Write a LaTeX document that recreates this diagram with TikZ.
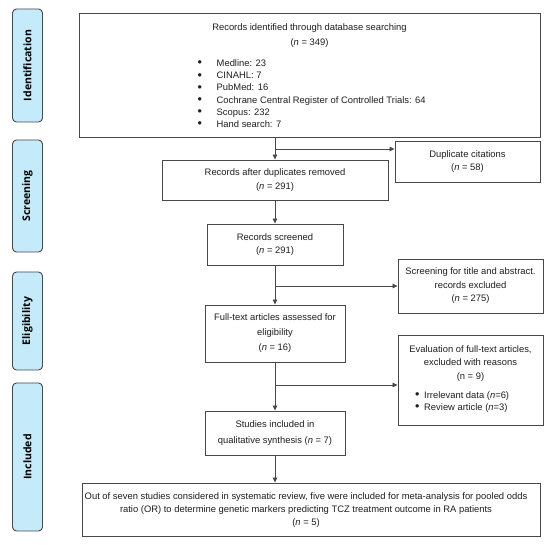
\documentclass[tikz,border=0pt]{standalone}
\usepackage{fontspec}
\setmainfont{Liberation Sans}
\newfontfamily\labfont{Open Sans}
\usetikzlibrary{arrows.meta}
\definecolor{lblue}{RGB}{197,234,250}
\definecolor{edge}{RGB}{72,72,72}
\definecolor{txt}{RGB}{30,30,30}
\newcommand{\bul}{\raisebox{-0.3pt}{\fontsize{12.5}{12}\selectfont\textbullet}}
\begin{document}
\begin{tikzpicture}[x=1pt,y=-1pt,
 box/.style={draw=edge,line width=0.9pt,rectangle,inner sep=0pt},
 btxt/.style={inner sep=0pt,align=center,text=txt,font=\fontsize{9.4}{13.5}\selectfont},
 ltxt/.style={inner sep=0pt,align=left,text=txt,font=\fontsize{9.4}{12.2}\selectfont},
 side/.style={draw=edge,fill=lblue,rounded corners=4pt,line width=0.9pt,minimum width=30pt,inner sep=0pt},
 sidetxt/.style={rotate=90,inner sep=0pt,text=black,font=\labfont\bfseries\fontsize{10.5}{12}\selectfont},
 arr/.style={draw=edge,line width=0.8pt,-{Triangle[length=5pt,width=4.5pt]}},
 ln/.style={draw=edge,line width=0.8pt}
]
\useasboundingbox (0,0) rectangle (550,545);
% side labels
\node[side,minimum height=113pt] (s1) at (27.5,65.5) {};
\node[sidetxt] (s1t) at (s1.center) {Identification};
\node[side,minimum height=112pt] (s2) at (27.5,196) {};
\node[sidetxt] (s2t) at (s2.center) {Screening};
\node[side,minimum height=98pt] (s3) at (27.5,321) {};
\node[sidetxt] (s3t) at (s3.center) {Eligibility};
\node[side,minimum height=148pt] (s4) at (27.5,457) {};
\node[sidetxt] (s4t) at (s4.center) {Included};
% boxes
\node[box,minimum width=461pt,minimum height=124pt] (b1) at (309.5,75) {};
\node[btxt,font=\fontsize{9.4}{15}\selectfont] (b1t) at (309.5,35.5) {Records identified through database searching\\(\textit{n} = 349)};
\node[ltxt,anchor=north west] (b1l) at (197.5,59.5) {%
\makebox[19pt][l]{\bul}Medline: 23\\
\makebox[19pt][l]{\bul}CINAHL: 7\\
\makebox[19pt][l]{\bul}PubMed: 16\\
\makebox[19pt][l]{\bul}Cochrane Central Register of Controlled Trials: 64\\
\makebox[19pt][l]{\bul}Scopus: 232\\
\makebox[19pt][l]{\bul}Hand search: 7};
\node[box,minimum width=226pt,minimum height=40pt] (b2) at (275,180) {};
\node[btxt] (b2t) at (b2.center) {Records after duplicates removed\\(\textit{n} = 291)};
\node[box,minimum width=145pt,minimum height=41pt] (d) at (467.5,161.5) {};
\node[btxt] (dt) at (d.center) {Duplicate citations\\(\textit{n} = 58)};
\node[box,minimum width=136pt,minimum height=41pt] (b3) at (275,244.5) {};
\node[btxt] (b3t) at (b3.center) {Records screened\\(\textit{n} = 291)};
\node[box,minimum width=145pt,minimum height=54pt] (sc) at (470.5,286) {};
\node[btxt] (sct) at (sc.center) {Screening for title and abstract.\\records excluded\\(\textit{n} = 275)};
\node[box,minimum width=140pt,minimum height=57pt] (b4) at (275,333.5) {};
\node[btxt,font=\fontsize{9.4}{15}\selectfont] (b4t) at (b4.center) {Full-text articles assessed for\\eligibility\\(\textit{n} = 16)};
\node[box,minimum width=145pt,minimum height=90pt] (ev) at (470.5,380) {};
\node[btxt] (evt) at (470.5,363.5) {Evaluation of full-text articles,\\excluded with reasons\\(n = 9)};
\node[ltxt,font=\fontsize{9.4}{11.5}\selectfont,anchor=north west] (evl) at (415,391.5) {%
\makebox[9pt][l]{\bul}Irrelevant data (\textit{n}=6)\\
\makebox[9pt][l]{\bul}Review article (\textit{n}=3)};
\node[box,minimum width=140pt,minimum height=44pt] (b5) at (275,433) {};
\node[btxt,font=\fontsize{9.4}{16}\selectfont] (b5t) at (b5.center) {Studies included in\\qualitative synthesis (\textit{n} = 7)};
\node[box,minimum width=458pt,minimum height=53pt] (b6) at (311,509.5) {};
\node[btxt,font=\fontsize{9.4}{13}\selectfont] (b6t) at (306,510) {Out of seven studies considered in systematic review, five were included for meta-analysis for pooled odds\\ratio (OR) to determine genetic markers predicting TCZ treatment outcome in RA patients\\(\textit{n} = 5)};
% connectors
\coordinate (c1) at (275,149);
\coordinate (c2) at (275,286);
\coordinate (c3) at (275,385);
\draw[arr] (b1.south -| b2.north) -- (b2.north);
\draw[arr] (c1) -- (c1 -| d.west);
\draw[arr] (b2.south) -- (b3.north);
\draw[arr] (b3.south) -- (b4.north);
\draw[arr] (c2) -- (sc.west);
\draw[arr] (b4.south) -- (b5.north);
\draw[arr] (c3) -- (c3 -| ev.west);
\draw[arr] (b5.south) -- (b5.south |- b6.north);
\end{tikzpicture}
\end{document}
